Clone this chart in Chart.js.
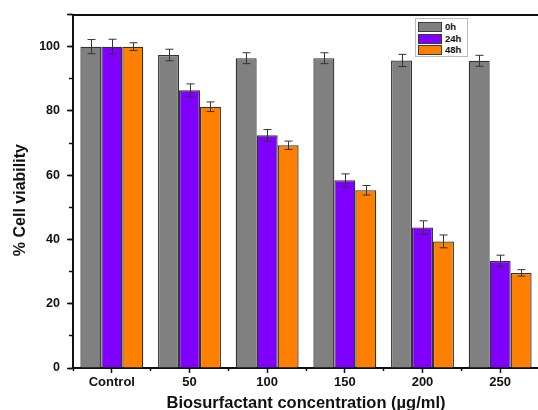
<!DOCTYPE html>
<html>
<head>
<meta charset="utf-8">
<script src="https://cdn.jsdelivr.net/npm/chart.js@4/dist/chart.umd.min.js"></script>
<style>
    html, body { margin: 0; padding: 0; background: #fff; overflow: hidden; }
    #wrap { position: relative; width: 538px; height: 410px; overflow: hidden; }
    #chart { position: absolute; left: 0; top: 0; }
    #legend {
        position: absolute; left: 415px; top: 18px; width: 51px; height: 37px;
        border: 1px solid #bbb; background: #fff;
        font: bold 9.5px "Liberation Sans", Arial, sans-serif; color: #111;
    }
    .row { position: absolute; left: 2px; height: 10px; line-height: 10px; }
    .sw { position: absolute; left: 0; top: 0; width: 22px; height: 8px; border: 1px solid #3c3c3c; }
    .lbl { position: absolute; left: 27px; top: 0; white-space: nowrap; }
</style>
</head>
<body>
<div id="wrap">
    <canvas id="chart" width="544" height="410"></canvas>
    <div id="legend"></div>
</div>
<script>
// Cell viability vs biosurfactant concentration

const categories = ['Control', '50', '100', '150', '200', '250'];

const seriesNames = ['0h', '24h', '48h'];
const seriesColors = ['#808080', '#7f00ff', '#ff8000'];

const viability0h  = [100, 97.4, 96.4, 96.4, 95.7, 95.6];
const viability24h = [100, 86.4, 72.4, 58.4, 43.7, 33.3];
const viability48h = [100, 81.3, 69.3, 55.3, 39.4, 29.6];

const error0h  = [2.2, 1.8, 1.7, 1.7, 1.9, 1.7];
const error24h = [2.3, 2.0, 1.8, 2.0, 2.1, 1.8];
const error48h = [1.2, 1.5, 1.3, 1.5, 2.0, 1.0];

const yTickLabels = [0, 20, 40, 60, 80, 100];

const seriesValues = [viability0h, viability24h, viability48h];
const seriesErrors = [error0h, error24h, error48h];

const INK = '#111';
const FONT = '"Liberation Sans", Arial, sans-serif';

// Draws the +/- error bars on top of each bar, using the chart's own y scale
const errorBars = {
    id: 'errorBars',
    afterDatasetsDraw(chart) {
        const ctx = chart.ctx;
        const y = chart.scales.y;
        ctx.save();
        ctx.strokeStyle = '#333';
        ctx.lineWidth = 1;
        chart.data.datasets.forEach((ds, di) => {
            const meta = chart.getDatasetMeta(di);
            meta.data.forEach((bar, i) => {
                const v = ds.data[i];
                const e = seriesErrors[di][i];
                const top = y.getPixelForValue(v + e);
                const bot = y.getPixelForValue(v - e);
                const x = Math.round(bar.x) + 0.5;
                ctx.beginPath();
                ctx.moveTo(x, top); ctx.lineTo(x, bot);
                ctx.moveTo(x - 4, top); ctx.lineTo(x + 4, top);
                ctx.moveTo(x - 4, bot); ctx.lineTo(x + 4, bot);
                ctx.stroke();
            });
        });
        ctx.restore();
    }
};

const datasets = seriesNames.map((name, i) => ({
    label: name,
    data: seriesValues[i],
    backgroundColor: seriesColors[i],
    borderColor: '#333',
    borderWidth: 1.3,
    barPercentage: 1,
    categoryPercentage: 0.81
}));

const chart = new Chart(document.getElementById('chart'), {
    type: 'bar',
    data: { labels: categories, datasets: datasets },
    options: {
        responsive: false,
        animation: false,
        devicePixelRatio: 1,
        layout: { padding: { top: 13, right: 5, bottom: 0, left: 0 } },
        plugins: {
            legend: { display: false },
            tooltip: { enabled: false }
        },
        scales: {
            x: {
                type: 'category',
                position: 'bottom',
                grid: { offset: false, drawOnChartArea: false, tickLength: 5, tickWidth: 1.5, tickColor: INK },
                border: { display: true, color: INK, width: 2 },
                ticks: { color: INK, padding: 2, maxRotation: 0, font: { family: FONT, size: 13, weight: 'bold' } },
                title: {
                    display: true,
                    text: 'Biosurfactant concentration (µg/ml)',
                    color: INK,
                    padding: 0,
                    font: { family: FONT, size: 16.5, weight: 'bold', lineHeight: 0.8 }
                },
                afterFit(scale) { scale.height = 42; }
            },
            xMinor: {
                type: 'category',
                position: 'bottom',
                weight: -1,
                grid: { offset: true, drawOnChartArea: false, tickLength: 3, tickWidth: 1.5, tickColor: INK },
                border: { display: false },
                ticks: { display: false },
                afterFit(scale) { scale.height = 0; }
            },
            xTop: {
                type: 'category',
                position: 'top',
                grid: { display: false, drawTicks: false },
                border: { display: true, color: INK, width: 2 },
                ticks: { display: false },
                afterFit(scale) { scale.height = 0; }
            },
            y: {
                type: 'linear',
                position: 'left',
                min: 0,
                max: 110,
                grid: { drawOnChartArea: false, tickLength: 6, tickWidth: 1.5, tickColor: INK },
                border: { display: true, color: INK, width: 2 },
                ticks: {
                    stepSize: 20,
                    padding: 7,
                    color: INK,
                    font: { family: FONT, size: 12.5, weight: 'bold' },
                    callback: v => yTickLabels.includes(v) ? v : ''
                },
                title: {
                    display: true,
                    text: '% Cell viability\u00a0\u00a0\u00a0\u00a0',
                    color: INK,
                    padding: { top: 11, bottom: 0 },
                    font: { family: FONT, size: 16, weight: 'bold' }
                },
                afterFit(scale) { scale.width = 73; }
            },
            yMinor: {
                type: 'linear',
                position: 'left',
                weight: -1,
                min: 0,
                max: 110,
                grid: { drawOnChartArea: false, tickLength: 4, tickWidth: 1.5, tickColor: INK },
                border: { display: false },
                ticks: { display: false, stepSize: 10 },
                afterFit(scale) { scale.width = 0; }
            }
        }
    },
    plugins: [errorBars]
});

// HTML legend built from the datasets
const legendEl = document.getElementById('legend');
legendEl.innerHTML = seriesNames.map((name, i) =>
    `<div class="row" style="top:${3 + i * 11.5}px">
        <span class="sw" style="background:${seriesColors[i]}"></span>
        <span class="lbl">${name}</span>
    </div>`
).join('');
</script>
</body>
</html>
